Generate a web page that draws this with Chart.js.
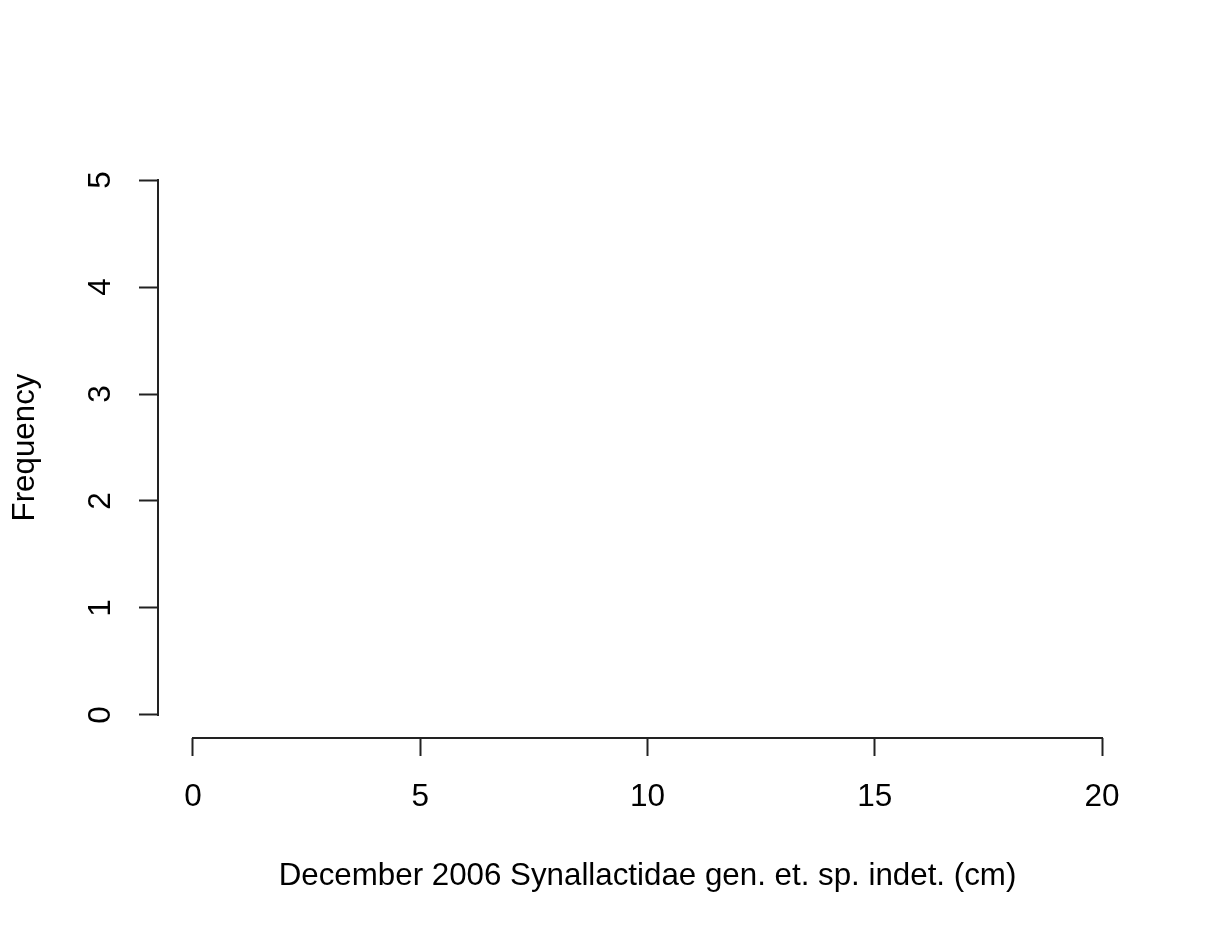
<!DOCTYPE html>
<html>
<head>
<meta charset="utf-8">
<script src="https://cdn.jsdelivr.net/npm/chart.js@4"></script>
<style>
  html, body { margin: 0; padding: 0; background: #ffffff; }
  #wrap { width: 1220px; height: 934px; }
</style>
</head>
<body>
<div id="wrap"><canvas id="c" width="1220" height="934"></canvas></div>
<script>
// Data (empty histogram: no observations)
const xTicks = [0, 5, 10, 15, 20];
const yTicks = [0, 1, 2, 3, 4, 5];
const binCenters = [];
const frequencies = [];
const xTitle = 'December 2006 Synallactidae gen. et. sp. indet. (cm)';
const yTitle = 'Frequency';

const FONT = '"Liberation Sans", Arial, sans-serif';
const INK = '#222222';

const axisLines = {
  id: 'axisLines',
  afterDraw(chart) {
    const { ctx, chartArea } = chart;
    const xs = chart.scales.x, ys = chart.scales.y;
    ctx.save();
    ctx.strokeStyle = INK;
    ctx.lineWidth = 2;
    ctx.lineCap = 'square';
    ctx.beginPath();
    const yb = Math.round(chartArea.bottom);
    ctx.moveTo(xs.getPixelForValue(xTicks[0]), yb);
    ctx.lineTo(xs.getPixelForValue(xTicks[xTicks.length - 1]), yb);
    const xl = Math.round(chartArea.left);
    ctx.moveTo(xl, ys.getPixelForValue(yTicks[0]));
    ctx.lineTo(xl, ys.getPixelForValue(yTicks[yTicks.length - 1]));
    ctx.stroke();
    ctx.restore();
  }
};

new Chart(document.getElementById('c'), {
  type: 'bar',
  data: {
    datasets: [{
      data: binCenters.map((v, i) => ({ x: v, y: frequencies[i] })),
      backgroundColor: '#ffffff',
      borderColor: '#000000',
      borderWidth: 1
    }]
  },
  options: {
    responsive: false,
    animation: false,
    devicePixelRatio: 1,
    layout: { padding: { left: 0, right: 83, top: 157, bottom: 0 } },
    plugins: { legend: { display: false }, tooltip: { enabled: false } },
    scales: {
      x: {
        type: 'linear',
        offset: false,
        min: -0.77,
        max: 20.77,
        afterBuildTicks: s => { s.ticks = xTicks.map(v => ({ value: v })); },
        afterFit: s => { s.height = 196; },
        border: { display: false },
        grid: { display: true, offset: false, drawOnChartArea: false, drawTicks: true, tickLength: 18, tickColor: INK, tickWidth: 2 },
        ticks: { color: '#000', font: { family: FONT, size: 31.5 }, padding: 22, maxRotation: 0, minRotation: 0, autoSkip: false },
        title: { display: true, text: xTitle, color: '#000', font: { family: FONT, size: 31.3 }, padding: { top: 0, bottom: 39 } }
      },
      y: {
        type: 'linear',
        offset: false,
        min: -0.215,
        max: 5.215,
        afterBuildTicks: s => { s.ticks = yTicks.map(v => ({ value: v })); },
        afterFit: s => { s.width = 158; },
        border: { display: false },
        grid: { display: true, offset: false, drawOnChartArea: false, drawTicks: true, tickLength: 19, tickColor: INK, tickWidth: 2 },
        ticks: { color: '#000', font: { family: FONT, size: 31.5 }, padding: 29, minRotation: 90, maxRotation: 90, crossAlign: 'center', autoSkip: false },
        title: { display: true, text: yTitle, color: '#000', font: { family: FONT, size: 31.3 }, padding: { top: 7, bottom: 0 } }
      }
    }
  },
  plugins: [axisLines]
});
</script>
</body>
</html>
